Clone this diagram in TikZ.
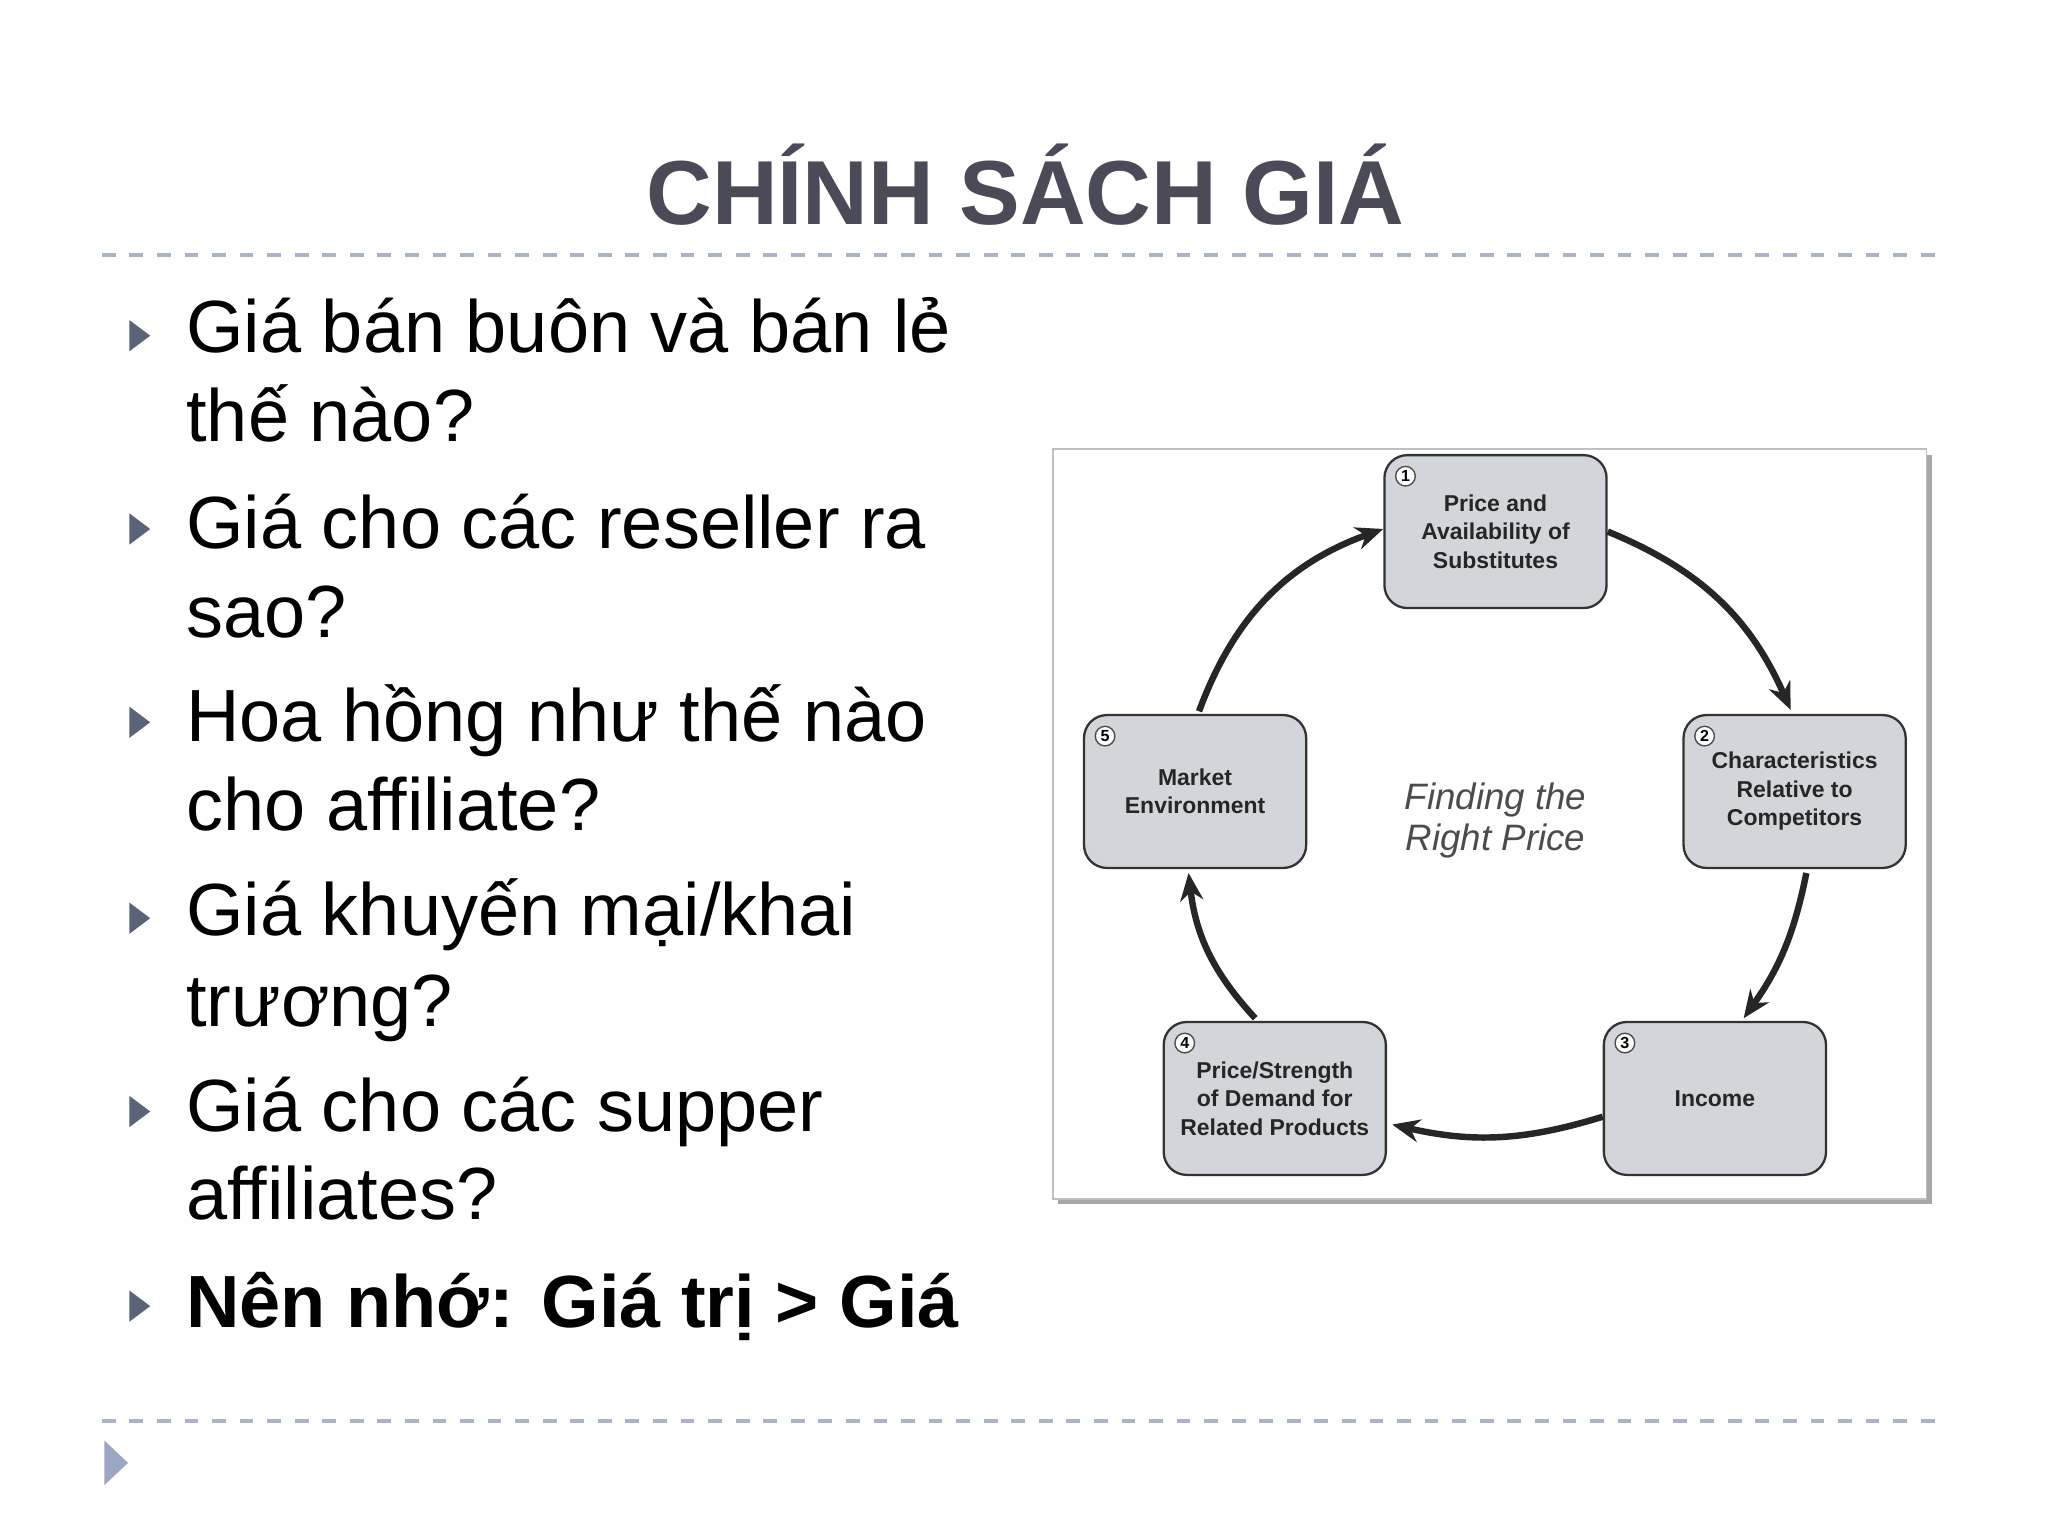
\documentclass[tikz,border=0pt]{standalone}
\usepackage{fontspec}
\setmainfont{Liberation Sans}
\usetikzlibrary{arrows.meta}
\definecolor{titlec}{HTML}{4A4B57}
\definecolor{dashc}{HTML}{A9B4C6}
\definecolor{bulc}{HTML}{5A6478}
\definecolor{boxc}{HTML}{D2D5DA}
\definecolor{tri}{HTML}{9AA6C2}
\begin{document}
\begin{tikzpicture}[x=0.01cm,y=-0.01cm,
  line/.style={anchor=base west,font=\fontsize{16.1}{18}\selectfont,inner sep=0pt},
  bul/.style={fill=bulc,draw=none},
  fbox/.style={draw=black!80,line width=0.5pt,fill=boxc,rounded corners=5pt,minimum width=1.7cm,minimum height=1.17cm,align=center,font=\fontsize{5.0}{6.2}\selectfont\bfseries,text=black!85},
  num/.style={circle,draw=black!70,fill=white,line width=0.3pt,inner sep=0pt,minimum size=0.15cm,font=\fontsize{3.5}{4}\selectfont\bfseries},
  arr/.style={-{Stealth[length=6pt,width=5pt]},line width=1.4pt,black!85}]
\useasboundingbox (0,0) rectangle (1568,1176);
\fill[white] (0,0) rectangle (1568,1176);
\node[font=\fontsize{19.8}{22}\selectfont\bfseries,text=titlec,anchor=base] (title) at (785,172) {CHÍNH SÁCH GIÁ};
\draw[dashc,dashed,line width=0.8pt] (78,195) -- (1490,195);
\draw[dashc,dashed,line width=0.8pt] (78,1088) -- (1490,1088);
\fill[tri] (80,1103) -- (98,1120) -- (80,1137) -- cycle;
% bullets
\foreach \y in {257,405,553,703,851,1000} {\fill[bul] (99,\y-12) -- (115,\y) -- (99,\y+12) -- cycle;}
\node[line] (b1) at (142,270) {Giá bán buôn và bán lẻ};
\node[line] (b1b) at (142,338) {thế nào?};
\node[line] (b2) at (142,420) {Giá cho các reseller ra};
\node[line] (b2b) at (142,488) {sao?};
\node[line] (b3) at (142,568) {Hoa hồng như thế nào};
\node[line] (b3b) at (142,636) {cho affiliate?};
\node[line] (b4) at (142,716) {Giá khuyến mại/khai};
\node[line] (b4b) at (142,786) {trương?};
\node[line] (b5) at (142,866) {Giá cho các supper};
\node[line] (b5b) at (142,934) {affiliates?};
\node[line,font=\fontsize{16.1}{18}\selectfont\bfseries] (b6) at (142,1016) {Nên nhớ: Giá trị > Giá};
% diagram frame
\fill[black!35] (810,348) rectangle (1479,922);
\draw[black!25,fill=white,line width=0.4pt] (806,344) rectangle (1475,918);
\node[fbox] (n1) at (1145,407) {Price and\\Availability of\\Substitutes};
\node[fbox] (n2) at (1374,606) {Characteristics\\Relative to\\Competitors};
\node[fbox] (n3) at (1313,841) {Income};
\node[fbox] (n4) at (976,841) {Price/Strength\\of Demand for\\Related Products};
\node[fbox] (n5) at (915,606) {Market\\Environment};
\foreach \n/\t in {n1/1,n2/2,n3/3,n4/4,n5/5} {\node[num] at ([shift={(17,17)}]\n.north west) {\t};}
\node[align=center,font=\fontsize{8}{9}\selectfont\itshape,text=black!70] (c) at (1145,628) {Finding the\\Right Price};
\draw[arr] (n1.east) to[bend left=22] ([shift={(-3,-3)}]n2.north);
\draw[arr] ([shift={(9,3)}]n2.south) to[bend left=12] ([shift={(22,-2)}]n3.north);
\draw[arr] ([shift={(0,14)}]n3.west) to[bend left=15] ([shift={(4,20)}]n4.east);
\draw[arr] ([shift={(-15,-2)}]n4.north) to[bend left=18] ([shift={(-5,3)}]n5.south);
\draw[arr] ([shift={(3,-2)}]n5.north) to[bend left=25] ([shift={(0,-2)}]n1.west);
\end{tikzpicture}
\end{document}
